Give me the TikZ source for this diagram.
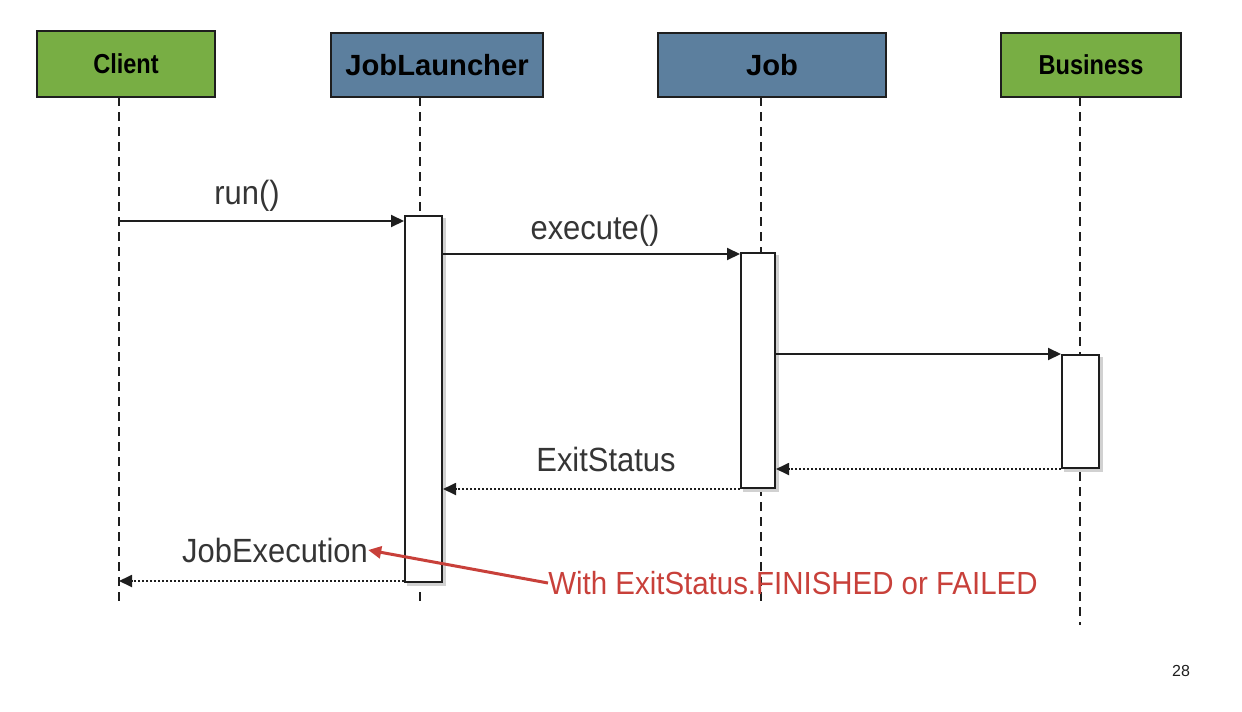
\documentclass[tikz,border=0pt]{standalone}
\usepackage{fontspec}
\setmainfont{Liberation Sans}
\newfontfamily\lblfont[FakeStretch=0.92]{Liberation Sans}
\newfontfamily\hdrfont[FakeStretch=0.86]{Liberation Sans}
\usetikzlibrary{arrows.meta}
\definecolor{hdrgreen}{RGB}{120,174,68}
\definecolor{hdrblue}{RGB}{92,127,158}
\definecolor{notered}{RGB}{200,64,58}
\definecolor{inkc}{RGB}{30,30,30}
\begin{document}
\begin{tikzpicture}[x=0.5pt,y=-0.5pt,
  hdr/.style={draw=inkc,line width=1pt,inner sep=0pt},
  act/.style={draw=inkc,fill=white,line width=1pt,inner sep=0pt},
  life/.style={draw=inkc,line width=1pt,dash pattern=on 4.5pt off 3pt},
  call/.style={draw=inkc,line width=1pt,-{Triangle[length=6.5pt,width=6pt]}},
  ret/.style={draw=inkc,line width=0.9pt,dash pattern=on 1.2pt off 0.8pt,-{Triangle[length=6.5pt,width=6pt]}},
  lbl/.style={font=\lblfont\fontsize{16.8pt}{19pt}\selectfont,text=inkc!90,inner sep=0pt},
  hdrA/.style={font=\hdrfont\bfseries\fontsize{13.7pt}{15pt}\selectfont,text=black},
  hdrB/.style={font=\bfseries\fontsize{14.6pt}{16pt}\selectfont,text=black}]
\useasboundingbox (0,0) rectangle (1242,712);

% headers
\node[hdr,fill=hdrgreen,minimum width=89pt,minimum height=33pt,hdrA] (client) at (126,64) {Client};
\node[hdr,fill=hdrblue,minimum width=106pt,minimum height=32pt,hdrB] (launcher) at (437,65) {JobLauncher};
\node[hdr,fill=hdrblue,minimum width=114pt,minimum height=32pt,hdrB] (job) at (772,65) {Job};
\node[hdr,fill=hdrgreen,minimum width=90pt,minimum height=32pt,hdrA] (business) at (1091,65) {Business};

% lifeline end points
\coordinate (cl0) at (119,97);  \coordinate (cl1) at (119,605);
\coordinate (jl0) at (420,97);  \coordinate (jl1) at (420,605);
\coordinate (jb0) at (761,97);  \coordinate (jb1) at (761,605);
\coordinate (bs0) at (1080,97); \coordinate (bs1) at (1080,625);

\draw[life] (cl0) -- (cl1);
\draw[life] (jl0) -- (jl1);
\draw[life] (jb0) -- (jb1);
\draw[life] (bs0) -- (bs1);

% activation shadows
\fill[black!18] (407,218) rectangle (446,586);
\fill[black!18] (743,255) rectangle (779,492);
\fill[black!18] (1064,357) rectangle (1103,472);

% activations
\node[act,minimum width=18.5pt,minimum height=183pt] (actJL) at (423.5,399) {};
\node[act,minimum width=17pt,minimum height=117.5pt] (actJob) at (758,370.5) {};
\node[act,minimum width=18.5pt,minimum height=56.5pt] (actBus) at (1080.5,411.5) {};

% messages
\coordinate (m1) at (119,221);
\draw[call] (m1) -- (m1 -| actJL.west);
\node[lbl] (lrun) at (247,196) {run()};

\coordinate (m2) at (500,254);
\draw[call] (actJL.east |- m2) -- (actJob.west |- m2);
\node[lbl] (lexec) at (595,231) {execute()};

\draw[call] (actJob.east |- actBus.north) -- (actBus.north west);

\draw[ret] (actBus.south west) -- (actJob.east |- actBus.south);

\coordinate (m5) at (600,489);
\draw[ret] (actJob.west |- m5) -- (actJL.east |- m5);
\node[lbl] (lexit) at (606,459) {ExitStatus};

\coordinate (m6) at (119,581);
\draw[ret] (actJL.west |- m6) -- (m6);
\node[lbl] (ljobex) at (275,550) {JobExecution};

% note
\node[lbl,font=\lblfont\fontsize{16pt}{18pt}\selectfont,text=notered,anchor=west] (note) at (548,583) {With ExitStatus.FINISHED or FAILED};
\draw[notered,line width=1.5pt,-{Triangle[length=6.5pt,width=6pt]}] (note.west) -- (ljobex.east);

% page number
\node[font=\fontsize{8pt}{9pt}\selectfont,text=inkc] (page) at (1181,671) {28};
\end{tikzpicture}
\end{document}
